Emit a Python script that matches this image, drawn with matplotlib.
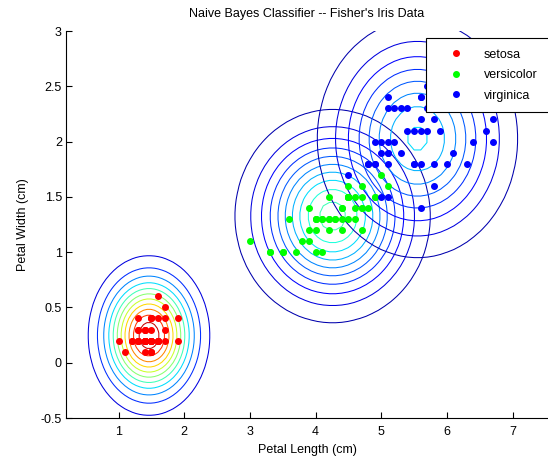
import numpy as np
import matplotlib
matplotlib.use("Agg")
import matplotlib.pyplot as plt
from matplotlib.ticker import FuncFormatter
from matplotlib.colors import Normalize

plt.rcParams['font.family'] = ['Liberation Sans', 'DejaVu Sans']

species = ['setosa', 'versicolor', 'virginica']
marker_colors = ['#ff0000', '#00ff00', '#0000ff']

setosa_pl = [1.4,1.4,1.3,1.5,1.4,1.7,1.4,1.5,1.4,1.5,1.5,1.6,1.4,1.1,1.2,1.5,1.3,1.4,1.7,1.5,
             1.7,1.5,1.0,1.7,1.9,1.6,1.6,1.5,1.4,1.6,1.6,1.5,1.5,1.4,1.5,1.2,1.3,1.5,1.3,1.5,
             1.3,1.3,1.3,1.6,1.9,1.4,1.6,1.4,1.5,1.4]
setosa_pw = [0.2,0.2,0.2,0.2,0.2,0.4,0.3,0.2,0.2,0.1,0.2,0.2,0.1,0.1,0.2,0.4,0.4,0.3,0.3,0.3,
             0.2,0.4,0.2,0.5,0.2,0.2,0.4,0.2,0.2,0.2,0.2,0.4,0.1,0.2,0.2,0.2,0.2,0.1,0.2,0.2,
             0.3,0.3,0.2,0.6,0.4,0.3,0.2,0.2,0.2,0.2]
versicolor_pl = [4.7,4.5,4.9,4.0,4.6,4.5,4.7,3.3,4.6,3.9,3.5,4.2,4.0,4.7,3.6,4.4,4.5,4.1,4.5,3.9,
                 4.8,4.0,4.9,4.7,4.3,4.4,4.8,5.0,4.5,3.5,3.8,3.7,3.9,5.1,4.5,4.5,4.7,4.4,4.1,4.0,
                 4.4,4.6,4.0,3.3,4.2,4.2,4.2,4.3,3.0,4.1]
versicolor_pw = [1.4,1.5,1.5,1.3,1.5,1.3,1.6,1.0,1.3,1.4,1.0,1.5,1.0,1.4,1.3,1.4,1.5,1.0,1.5,1.1,
                 1.8,1.3,1.5,1.2,1.3,1.4,1.4,1.7,1.5,1.0,1.1,1.0,1.2,1.6,1.5,1.6,1.5,1.3,1.3,1.3,
                 1.2,1.4,1.2,1.0,1.3,1.2,1.3,1.3,1.1,1.3]
virginica_pl = [6.0,5.1,5.9,5.6,5.8,6.6,4.5,6.3,5.8,6.1,5.1,5.3,5.5,5.0,5.1,5.3,5.5,6.7,6.9,5.0,
                5.7,4.9,6.7,4.9,5.7,6.0,4.8,4.9,5.6,5.8,6.1,6.4,5.6,5.1,5.6,6.1,5.6,5.5,4.8,5.4,
                5.6,5.1,5.1,5.9,5.7,5.2,5.0,5.2,5.4,5.1]
virginica_pw = [2.5,1.9,2.1,1.8,2.2,2.1,1.7,1.8,1.8,2.5,2.0,1.9,2.1,2.0,2.4,2.3,1.8,2.2,2.3,1.5,
                2.3,2.0,2.0,1.8,2.1,1.8,1.8,1.8,2.1,1.6,1.9,2.0,2.2,1.5,1.4,2.3,2.4,1.8,1.8,2.1,
                2.4,2.3,1.9,2.3,2.5,2.3,1.9,2.0,2.3,1.8]

petal_length = [setosa_pl, versicolor_pl, virginica_pl]
petal_width = [setosa_pw, versicolor_pw, virginica_pw]
level_steps = [0.1, 0.05, 0.05]

x_ticks = [1, 2, 3, 4, 5, 6, 7]
y_ticks = [-0.5, 0, 0.5, 1, 1.5, 2, 2.5, 3]

fig = plt.figure(figsize=(5.48, 4.61), dpi=100)
ax = fig.add_axes([66/548, 43/461, 482/548, 387/461])

# Naive Bayes per-class Gaussian densities (std used as covariance diagonal)
grids = []
for pl, pw in zip(petal_length, petal_width):
    pl = np.asarray(pl); pw = np.asarray(pw)
    mu = np.array([pl.mean(), pw.mean()])
    sd = np.array([pl.std(ddof=1), pw.std(ddof=1)])
    var = sd  # diag covariance
    s = np.sqrt(var)
    gx = np.linspace(mu[0] - 4*s[0], mu[0] + 4*s[0], 60)
    gy = np.linspace(mu[1] - 4*s[1], mu[1] + 4*s[1], 60)
    X, Y = np.meshgrid(gx, gy)
    Z = np.exp(-0.5*((X-mu[0])**2/var[0] + (Y-mu[1])**2/var[1])) / (2*np.pi*np.sqrt(var[0]*var[1]))
    grids.append((X, Y, Z))

vmax = max(g[2].max() for g in grids)
norm = Normalize(vmin=0, vmax=vmax)
for (X, Y, Z), step in zip(grids, level_steps):
    levels = np.arange(step, Z.max(), step)
    ax.contour(X, Y, Z, levels=levels, cmap='jet', norm=norm, linewidths=0.75)

handles = []
for pl, pw, name, c in zip(petal_length, petal_width, species, marker_colors):
    h, = ax.plot(pl, pw, linestyle='none', marker='o', markersize=4.0,
                 markerfacecolor=c, markeredgecolor=c, label=name, zorder=5)
    handles.append(h)

ax.set_xlim(0.2, 7.54)
ax.set_ylim(-0.5, 3)
ax.set_xticks(x_ticks)
ax.set_yticks(y_ticks)
ax.yaxis.set_major_formatter(FuncFormatter(lambda v, p: '%g' % v))
ax.tick_params(direction='in', length=4, width=0.8, labelsize=9, colors='black')
ax.tick_params(axis='x', pad=6)
ax.tick_params(axis='y', pad=3)
for side in ['top', 'right']:
    ax.spines[side].set_visible(False)
for side in ['left', 'bottom']:
    ax.spines[side].set_linewidth(0.8)

ax.set_title("Naive Bayes Classifier -- Fisher's Iris Data", fontsize=9, pad=10)
ax.set_xlabel('Petal Length (cm)', fontsize=9, labelpad=4)
ax.set_ylabel('Petal Width (cm)', fontsize=9, labelpad=8)

leg = ax.legend(handles=handles, loc='upper left', bbox_to_anchor=(426/548, 1-38/461),
                bbox_transform=fig.transFigure, fontsize=9, frameon=True, fancybox=False,
                handlelength=3.1, handletextpad=0.7, borderpad=0.85, labelspacing=0.68,
                borderaxespad=0)
leg.get_frame().set_edgecolor('black')
leg.get_frame().set_linewidth(0.8)
leg.get_frame().set_alpha(1)

fig.savefig('out.png', dpi=100)
